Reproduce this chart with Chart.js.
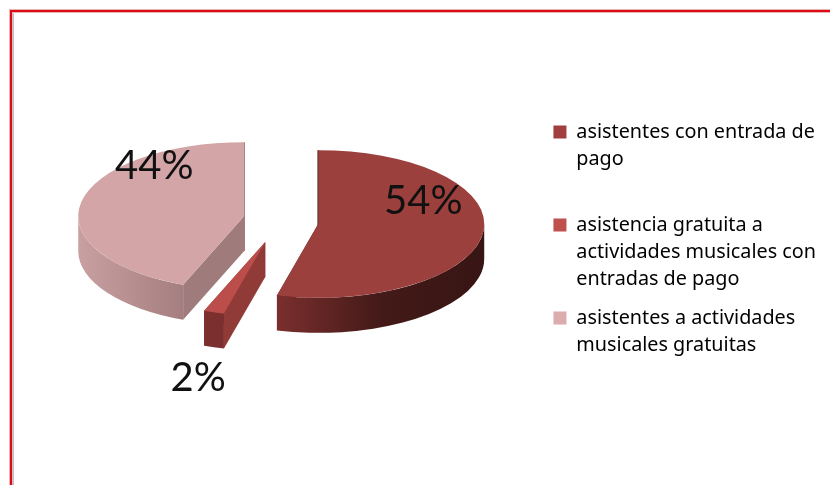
<!DOCTYPE html>
<html>
<head>
<meta charset="utf-8">
<style>
    html, body { margin: 0; padding: 0; background: #fff; }
    #box { width: 830px; height: 485px; }
</style>
<script src="https://cdn.jsdelivr.net/npm/chart.js@4"></script>
</head>
<body>
<div id="box"><canvas id="asistentesChart" width="830" height="485"></canvas></div>
<script>
const categorias = [
    "asistentes con entrada de pago",
    "asistencia gratuita a actividades musicales con entradas de pago",
    "asistentes a actividades musicales gratuitas"
];
const porcentajes = [54, 2, 44];

// Lineas de la leyenda (la linea vacia separa el primer grupo)
const lineasLeyenda = [
    ["asistentes con entrada de", "pago", ""],
    ["asistencia gratuita a", "actividades musicales con", "entradas de pago"],
    ["asistentes a actividades", "musicales gratuitas"]
];

const coloresCara = ["#9b403d", "#bb4e4a", "#d4a5a6"];
const coloresLeyenda = ["#a03f3e", "#c0504d", "#dcabae"];
const paredExterior = [["#7a2f2d", "#431a18", "#371514"], ["#7c2f2f", "#7c2f2f", "#7c2f2f"], ["#c9a0a2", "#b88f91", "#a47e80"]];
const paredCorte = ["#3a1514", "#903b37", "#9f7b7b"];
const separacion = [[40, 6], [-13, 24], [-34, -2]];  // porcion explotada, desde el centro
const desplazaEtiqueta = [[105, -23], [-67, 136], [-90, -50]];

const APLANADO = 0.445;  // relacion alto/ancho de la elipse
const CENTRO_Y = 218;    // centro vertical del pastel
const PROFUNDIDAD = 35;  // grosor del pastel

function verticeArco(arc, i) {
    return { x: arc.x + separacion[i][0], y: CENTRO_Y + separacion[i][1] };
}

const pastel3d = {
    id: "pastel3d",
    beforeDraw(chart) {
        // Marco rojo superior e izquierdo
        const ctx = chart.ctx;
        ctx.save();
        ctx.strokeStyle = "#e8b4b4";
        ctx.lineWidth = 4;
        ctx.beginPath();
        ctx.moveTo(11, 485); ctx.lineTo(11, 11); ctx.lineTo(830, 11);
        ctx.stroke();
        ctx.strokeStyle = "#b9c3cf";
        ctx.lineWidth = 1;
        ctx.beginPath();
        ctx.moveTo(13.5, 485); ctx.lineTo(13.5, 13.5);
        ctx.stroke();
        ctx.strokeStyle = "#dc0a14";
        ctx.lineWidth = 2;
        ctx.beginPath();
        ctx.moveTo(11, 485); ctx.lineTo(11, 11); ctx.lineTo(830, 11);
        ctx.stroke();
        ctx.restore();
    },
    beforeDatasetsDraw(chart) {
        const ctx = chart.ctx;
        const arcos = chart.getDatasetMeta(0).data;
        arcos.forEach((arc, i) => {
            const v = verticeArco(arc, i);
            const R = arc.outerRadius;
            const ry = R * APLANADO;
            const a0 = Math.max(arc.startAngle, 0);
            const a1 = Math.min(arc.endAngle, Math.PI);

            // Paredes de los cortes
            ctx.fillStyle = paredCorte[i];
            ctx.strokeStyle = paredCorte[i];
            ctx.lineWidth = 1.5;
            [arc.startAngle, arc.endAngle].forEach(a => {
                const px = v.x + Math.cos(a) * R;
                const py = v.y + Math.sin(a) * ry;
                ctx.beginPath();
                ctx.moveTo(v.x, v.y);
                ctx.lineTo(px, py);
                ctx.lineTo(px, py + PROFUNDIDAD);
                ctx.lineTo(v.x, v.y + PROFUNDIDAD);
                ctx.closePath();
                ctx.fill();
                if (Math.abs(Math.cos(a)) < 0.01) ctx.stroke();
            });

            // Pared exterior
            if (a1 > a0) {
                const grad = ctx.createLinearGradient(v.x + Math.cos(a1) * R, 0, v.x + Math.cos(a0) * R, 0);
                grad.addColorStop(0, paredExterior[i][0]);
                grad.addColorStop(0.5, paredExterior[i][1]);
                grad.addColorStop(1, paredExterior[i][2]);
                ctx.fillStyle = grad;
                ctx.beginPath();
                ctx.ellipse(v.x, v.y, R, ry, 0, a0, a1);
                ctx.ellipse(v.x, v.y + PROFUNDIDAD, R, ry, 0, a1, a0, true);
                ctx.closePath();
                ctx.fill();
            }
        });

        // Cara superior: cada arco de la libreria, aplanado y separado
        arcos.forEach((arc, i) => {
            const v = verticeArco(arc, i);
            ctx.save();
            ctx.translate(v.x - arc.x, v.y);
            ctx.scale(1, APLANADO);
            ctx.translate(0, -arc.y);
            arc.draw(ctx);
            ctx.restore();
        });
        return false;
    },
    afterDraw(chart) {
        const ctx = chart.ctx;
        ctx.save();
        ctx.font = "40px Lato";
        ctx.fillStyle = "#111";
        ctx.textAlign = "center";
        ctx.textBaseline = "middle";
        chart.getDatasetMeta(0).data.forEach((arc, i) => {
            const v = verticeArco(arc, i);
            ctx.fillText(porcentajes[i] + "%", v.x + desplazaEtiqueta[i][0], v.y + desplazaEtiqueta[i][1]);
        });
        ctx.restore();
    }
};

const ctx = document.getElementById("asistentesChart").getContext("2d");
const asistentesChart = new Chart(ctx, {
    type: "pie",
    data: {
        labels: categorias,
        datasets: [{
            data: porcentajes,
            backgroundColor: coloresCara,
            borderWidth: 0,
            radius: 166
        }]
    },
    options: {
        responsive: false,
        animation: false,
        layout: { padding: { left: 14, right: 4 } },
        plugins: {
            tooltip: { enabled: false },
            legend: {
                position: "right",
                labels: {
                    boxWidth: 13,
                    boxHeight: 13,
                    padding: 11,
                    color: "#222",
                    font: { family: "'Noto Sans'", size: 19.8, lineHeight: 1.38 },
                    generateLabels: () => lineasLeyenda.map((lineas, i) => ({
                        text: lineas,
                        fillStyle: coloresLeyenda[i],
                        strokeStyle: coloresLeyenda[i],
                        lineWidth: 0,
                        index: i
                    }))
                }
            }
        }
    },
    plugins: [pastel3d]
});
</script>
</body>
</html>
